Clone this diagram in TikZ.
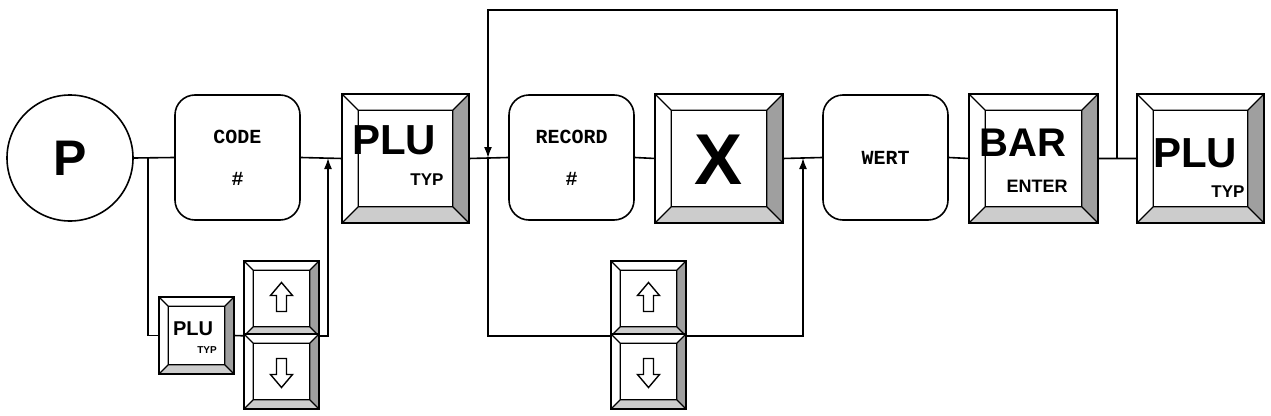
\documentclass[tikz,border=0pt]{standalone}
\usepackage{fontspec}
\setmainfont{Liberation Sans}
\newfontfamily\monof{Liberation Mono}
\usetikzlibrary{arrows.meta,calc}
\tikzset{
 line/.style={line width=1.6pt},
 arr/.style={line,-{Latex[length=11pt,width=8pt]}},
 key/.style={draw,line width=1.6pt,rectangle,inner sep=0pt,fill=white},
 box/.style={draw,line width=1.6pt,rectangle,rounded corners=20pt,inner sep=0pt,minimum width=125pt,minimum height=125pt,font=\monof\bfseries\fontsize{20}{24}\selectfont,align=center},
}
\newcommand\bevelkey[2]{%
 \coordinate (a) at (#1.north west); \coordinate (b) at (#1.north east);
 \coordinate (c) at (#1.south east); \coordinate (d) at (#1.south west);
 \coordinate (ia) at ($(a)+(#2,#2)$); \coordinate (ib) at ($(b)+(-#2,#2)$);
 \coordinate (ic) at ($(c)+(-#2,-#2)$); \coordinate (id) at ($(d)+(#2,-#2)$);
 \fill[white] (a)--(b)--(ib)--(ia)--cycle (a)--(ia)--(id)--(d)--cycle;
 \fill[gray!75] (b)--(c)--(ic)--(ib)--cycle;
 \fill[gray!40] (d)--(c)--(ic)--(id)--cycle;
 \draw[line width=1.2pt] (ia) rectangle (ic) (a)--(ia) (b)--(ib) (c)--(ic) (d)--(id);
 \draw[line width=1.6pt] (a) rectangle (c);
}
\newcommand\uparr[1]{\draw[line width=1.4pt,fill=white] ($(#1)+(0,-16)$)--($(#1)+(11,-3)$)--($(#1)+(5,-3)$)--($(#1)+(5,13)$)--($(#1)+(-5,13)$)--($(#1)+(-5,-3)$)--($(#1)+(-11,-3)$)--cycle;}
\newcommand\dnarr[1]{\draw[line width=1.4pt,fill=white] ($(#1)+(0,16)$)--($(#1)+(11,3)$)--($(#1)+(5,3)$)--($(#1)+(5,-13)$)--($(#1)+(-5,-13)$)--($(#1)+(-5,3)$)--($(#1)+(-11,3)$)--cycle;}
\begin{document}
\begin{tikzpicture}[x=1pt,y=-1pt]
\useasboundingbox (0,0) rectangle (1271,415);
% nodes
\node[draw,line width=1.6pt,circle,minimum size=126pt,inner sep=0pt,font=\bfseries\fontsize{50}{50}\selectfont] (P) at (70,158) {P};
\node[box] (code) at (237.5,157.5) {CODE\\[18pt]\#};
\node[key,minimum width=125pt,minimum height=127pt] (plu1) at (405.5,158.5) {};
\node[box] (rec) at (571.5,157.5) {RECORD\\[18pt]\#};
\node[key,minimum width=126pt,minimum height=127pt] (xk) at (719,158.5) {};
\node[box] (wert) at (885.5,157.5) {WERT};
\node[key,minimum width=127pt,minimum height=127pt] (bar) at (1033.5,158.5) {};
\node[key,minimum width=125pt,minimum height=127pt] (plu2) at (1200.5,158.5) {};
\node[key,minimum width=73pt,minimum height=75pt] (plus) at (196.5,335.5) {};
\node[key,minimum width=73pt,minimum height=73pt] (up1) at (281.5,298.5) {};
\node[key,minimum width=73pt,minimum height=73pt] (dn1) at (281.5,371.5) {};
\node[key,minimum width=73pt,minimum height=73pt] (up2) at (648.5,298.5) {};
\node[key,minimum width=73pt,minimum height=73pt] (dn2) at (648.5,371.5) {};
% bevels
\bevelkey{plu1}{16}\bevelkey{xk}{16}\bevelkey{bar}{16}\bevelkey{plu2}{16}
\bevelkey{plus}{9}\bevelkey{up1}{9}\bevelkey{dn1}{9}\bevelkey{up2}{9}\bevelkey{dn2}{9}
% labels
\node[font=\bfseries\fontsize{42}{42}\selectfont] (t1) at (394,140) {PLU};
\node[font=\bfseries\fontsize{17}{17}\selectfont] (t2) at (427,180) {TYP};
\node[font=\bfseries\fontsize{72}{72}\selectfont] (t3) at (719,160) {X};
\node[font=\bfseries\fontsize{40}{40}\selectfont] (t4) at (1023,143) {BAR};
\node[font=\bfseries\fontsize{18}{18}\selectfont] (t5) at (1037,186) {ENTER};
\node[font=\bfseries\fontsize{42}{42}\selectfont] (t6) at (1195,153) {PLU};
\node[font=\bfseries\fontsize{17}{17}\selectfont] (t7) at (1228,192) {TYP};
\node[font=\bfseries\fontsize{20}{20}\selectfont] (t8) at (193,329) {PLU};
\node[font=\bfseries\fontsize{10}{10}\selectfont] (t9) at (207,350) {TYP};
\uparr{up1}\dnarr{dn1}\uparr{up2}\dnarr{dn2}
% connectors
\coordinate (j1) at (148,158); \coordinate (j2) at (328,158);
\coordinate (j3) at (488,158); \coordinate (j4) at (803,158);
\coordinate (j5) at (1117,158);
\draw[line] (P.east)--(code.west) (code.east)--(plu1.west) (plu1.east)--(rec.west)
 (rec.east)--(xk.west) (xk.east)--(wert.west) (wert.east)--(bar.west) (bar.east)--(plu2.west);
\draw[line] (j1)|-(plus.west);
\draw[line] (plus.east)--(up1.south west);
\draw[arr] (up1.south east)-|(j2);
\draw[line] (j3)|-(up2.south west);
\draw[arr] (up2.south east)-|(j4);
\draw[arr] (j5)--(1117,10)-|(j3);
\end{tikzpicture}
\end{document}
